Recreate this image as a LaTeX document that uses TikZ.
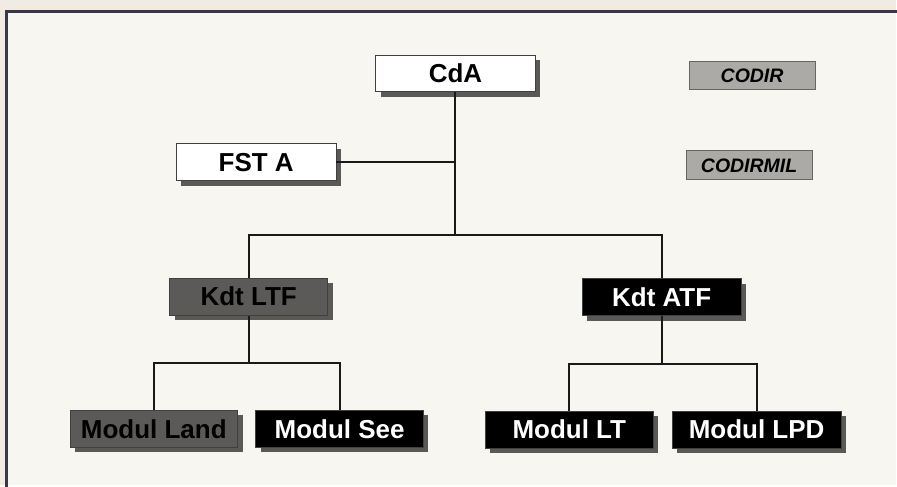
\documentclass[tikz,border=0pt]{standalone}
\usepackage{fontspec}
\setmainfont{Liberation Sans}
\usetikzlibrary{shadows}

\definecolor{paper}{HTML}{F8F6F1}
\definecolor{margin}{HTML}{F1EBE4}
\definecolor{framecol}{HTML}{3A3848}
\definecolor{ltfgrey}{HTML}{5C5A58}
\definecolor{codirgrey}{HTML}{ABAAA6}
\definecolor{shadowgrey}{HTML}{4A4846}

\tikzset{
  orgbox/.style={draw=black!75, line width=0.4pt, inner sep=0pt,
    minimum height=18.5pt,
    font=\fontsize{13}{15}\selectfont\bfseries,
    drop shadow={shadow xshift=2.5pt, shadow yshift=-2.5pt,
      fill=shadowgrey, opacity=0.9}},
  whitebox/.style={orgbox, fill=white, minimum width=80pt},
  greybox/.style={orgbox, fill=ltfgrey, text=black},
  blackbox/.style={orgbox, fill=black, text=white},
  legendbox/.style={draw=black!60, line width=0.4pt, fill=codirgrey,
    inner sep=0pt, minimum width=63pt, minimum height=14.5pt,
    font=\fontsize{9.75}{11}\selectfont\bfseries\itshape},
  link/.style={line width=1pt, draw=black!90, line cap=butt}
}

\begin{document}
\begin{tikzpicture}[x=0.5pt,y=-0.5pt,line cap=rect]

% --- Sfondo e cornice ---
\fill[margin] (0,0) rectangle (897,486);
\fill[paper] (6.5,11.5) rectangle (897,486);
\draw[framecol, line width=1.1pt] (6.5,486) -- (6.5,11.5) -- (897,11.5);
\useasboundingbox (0,0) rectangle (897,486);

% --- Vertice ---
\node[whitebox] (cda) at (456,73.5) {CdA};
\node[whitebox] (fsta) at (256.5,162.5) {FST A};

% --- Legenda ---
\node[legendbox] (codir) at (753,75.5) {CODIR};
\node[legendbox] (codirmil) at (750,165.5) {CODIRMIL};

% --- Comandanti ---
\node[greybox, minimum width=79pt] (ltf) at (249,297) {Kdt LTF};
\node[blackbox, minimum width=79.5pt] (atf) at (662.5,297.5) {Kdt ATF};

% --- Moduli ---
\node[greybox, minimum width=84pt] (land) at (154,429.5) {Modul Land};
\node[blackbox, minimum width=84pt] (see) at (340,429.5) {Modul See};
\node[blackbox, minimum width=84pt] (lt) at (570,430) {Modul LT};
\node[blackbox, minimum width=84.5pt] (lpd) at (757.5,430) {Modul LPD};

% --- Collegamenti ---
\coordinate (bus) at (456,235);
\coordinate (ltfbus) at (249,363);
\coordinate (atfbus) at (662.5,364);

\draw[link] (cda.south) -- (bus);
\draw[link] (fsta.east) -- (fsta.east -| cda.south);
\draw[link] (ltf.north) |- (bus) -| (atf.north);

\draw[link] (ltf.south) -- (ltfbus);
\draw[link] (land.north) |- (ltfbus) -| (see.north);

\draw[link] (atf.south) -- (atfbus);
\draw[link] (lt.north) |- (atfbus) -| (lpd.north);

\end{tikzpicture}
\end{document}
